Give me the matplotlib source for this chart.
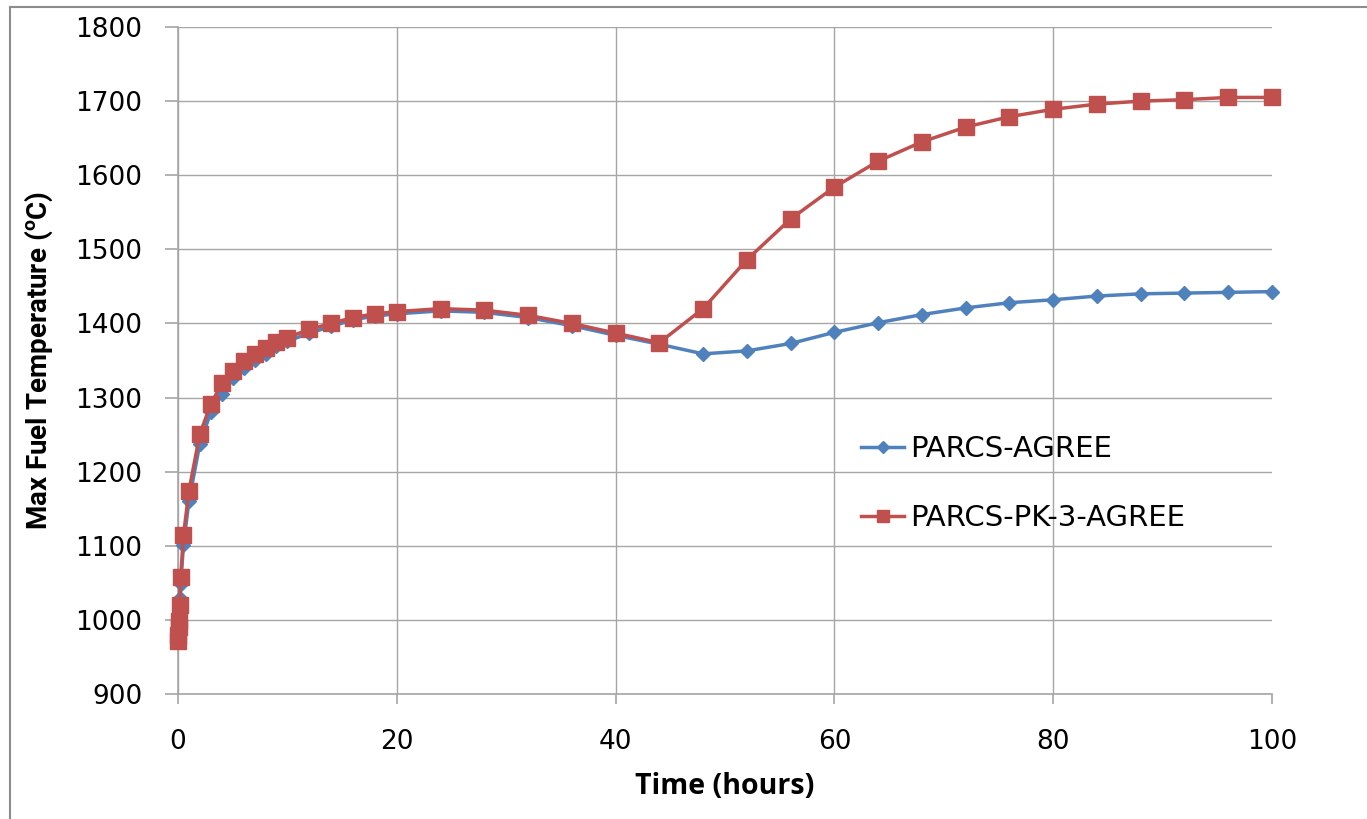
import matplotlib
matplotlib.use('Agg')
import matplotlib.pyplot as plt
from matplotlib.lines import Line2D

# time points (hours)
time_hours = [0, 0.02, 0.05, 0.08, 0.15, 0.25, 0.5,
              1, 2, 3, 4, 5, 6, 7, 8, 9, 10,
              12, 14, 16, 18, 20,
              24, 28, 32, 36, 40, 44, 48, 52, 56, 60,
              64, 68, 72, 76, 80, 84, 88, 92, 96, 100]

parcs_agree = [985, 992, 1000, 1011, 1030, 1048, 1101,
               1160, 1238, 1280, 1305, 1326, 1340, 1351, 1359, 1369, 1376,
               1387, 1396, 1405, 1410, 1413,
               1417, 1415, 1408, 1397, 1384, 1372, 1359, 1363, 1373, 1388,
               1401, 1412, 1421, 1428, 1432, 1437, 1440, 1441, 1442, 1443]

parcs_pk3_agree = [972, 980, 990, 998, 1020, 1058, 1114,
                   1174, 1251, 1291, 1319, 1336, 1349, 1359, 1367, 1375, 1381,
                   1392, 1400, 1408, 1413, 1416,
                   1420, 1418, 1411, 1400, 1387, 1374, 1420, 1486, 1541, 1584,
                   1619, 1645, 1665, 1679, 1689, 1696, 1700, 1702, 1705, 1705]

X_TICKS = [0, 20, 40, 60, 80, 100]
Y_TICKS = [900, 1000, 1100, 1200, 1300, 1400, 1500, 1600, 1700, 1800]

BLUE = '#4F81BD'
RED = '#C0504D'
GRID = '#A6A6A6'

plt.rcParams['font.family'] = ['DejaVu Sans']
plt.rcParams['mathtext.default'] = 'regular'

fig = plt.figure(figsize=(13.67, 8.19), dpi=100)
ax = fig.add_axes([0.1302, 0.1526, 0.8003, 0.8144])

ax.plot(time_hours, parcs_agree, color=BLUE, linewidth=2.5, marker='D',
        markersize=7.5, label='PARCS-AGREE', clip_on=False, zorder=3)
ax.plot(time_hours, parcs_pk3_agree, color=RED, linewidth=2.5, marker='s',
        markersize=11, label='PARCS-PK-3-AGREE', clip_on=False, zorder=4)

ax.set_xlim(0, 100)
ax.set_ylim(900, 1800)
ax.set_xticks(X_TICKS)
ax.set_yticks(Y_TICKS)

for side in ['top', 'right']:
    ax.spines[side].set_visible(False)
for side in ['left', 'bottom']:
    ax.spines[side].set_color(GRID)
    ax.spines[side].set_linewidth(1.2)

ax.grid(True, color=GRID, linewidth=1.0)
ax.set_axisbelow(True)
# no vertical gridline at the right edge
ax.xaxis.get_gridlines()[-1].set_visible(False)

ax.tick_params(axis='x', direction='out', length=7.5, width=1.2, color=GRID,
               pad=18, labelsize=19)
ax.tick_params(axis='y', direction='out', length=9.5, width=1.2, color=GRID,
               pad=16, labelsize=19)

ax.set_xlabel('Time (hours)', fontsize=20.5, fontweight='bold',
              family=['Open Sans', 'DejaVu Sans'], labelpad=12)
ax.set_ylabel('Max Fuel Temperature ($^{o}$C)', fontsize=20,
              fontweight='bold', family=['Roboto', 'DejaVu Sans'],
              labelpad=15)

leg = ax.legend(loc='upper left', bbox_to_anchor=(0.60, 0.427), frameon=False,
                fontsize=21, handlelength=1.5, handletextpad=0.2,
                labelspacing=1.4, markerscale=0.75)

# outer chart border (left/top visible in the reference)
fig.add_artist(Line2D([10 / 1367, 10 / 1367], [0, 1 - 7 / 819],
                      transform=fig.transFigure, color='#8C8C8C', linewidth=1.5))
fig.add_artist(Line2D([10 / 1367, 1], [1 - 7 / 819, 1 - 7 / 819],
                      transform=fig.transFigure, color='#8C8C8C', linewidth=1.5))

fig.savefig('out.png', dpi=100)
plt.close(fig)
